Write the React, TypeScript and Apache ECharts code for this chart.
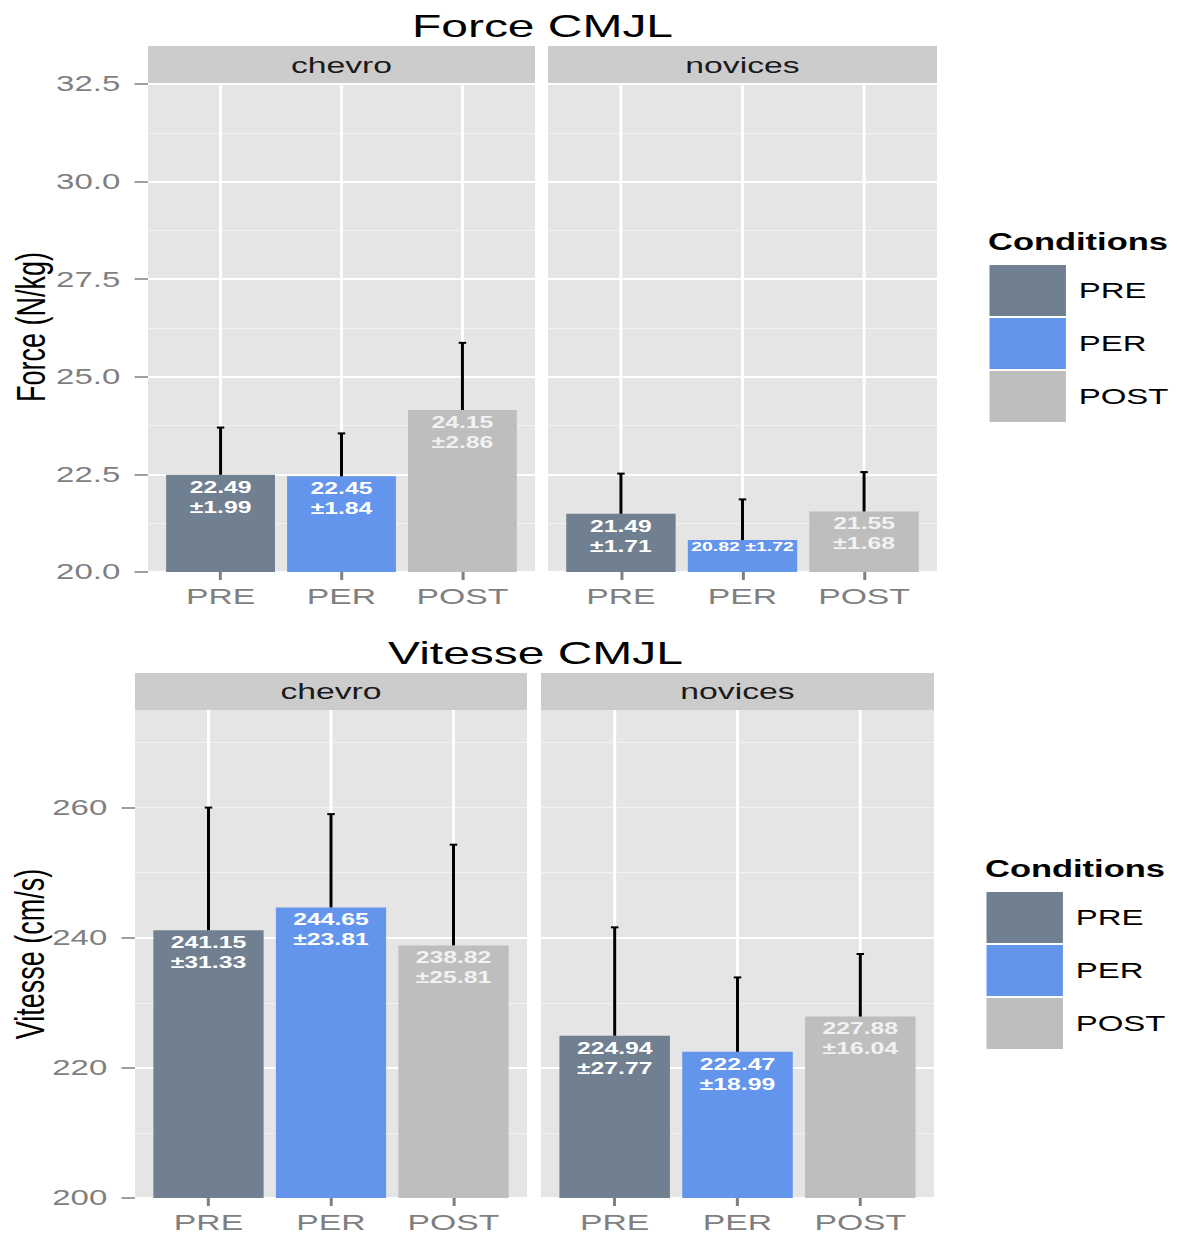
import React, { useEffect, useRef } from "react";
import * as echarts from "echarts";

// ---------- data ----------
const conditions = ["PRE", "PER", "POST"];
const groups = ["chevro", "novices"];
const conditionColors = ["#708090", "#6495ED", "#BEBEBE"];
const labelColors = ["#FFFFFF", "#FFFFFF", "#F2F2F2"];

const forceChevroMean = [22.49, 22.45, 24.15];
const forceChevroSd = [1.99, 1.84, 2.86];
const forceChevroErrTop = [23.7, 23.55, 25.87];
const forceNovicesMean = [21.49, 20.82, 21.55];
const forceNovicesSd = [1.71, 1.72, 1.68];
const forceNovicesErrTop = [22.52, 21.86, 22.56];

const vitesseChevroMean = [241.15, 244.65, 238.82];
const vitesseChevroSd = [31.33, 23.81, 25.81];
const vitesseChevroErrTop = [260.0, 259.0, 254.3];
const vitesseNovicesMean = [224.94, 222.47, 227.88];
const vitesseNovicesSd = [27.77, 18.99, 16.04];
const vitesseNovicesErrTop = [241.6, 233.9, 237.5];

const forceTicks = [20, 22.5, 25, 27.5, 30, 32.5];
const vitesseTicks = [200, 220, 240, 260];

// ---------- layout ----------
const REAL_W = 1178;
const H = 1234;
const CW = 786; // chart width before horizontal stretch
const S = REAL_W / CW;
const X = (real: number) => real / S;
const FONT = '"Liberation Sans", Arial, Helvetica, sans-serif';

const PLOTS = [
  {
    title: "Force CMJL",
    yName: "Force (N/kg)",
    min: 20,
    max: 32.5,
    major: 2.5,
    minor: 1.25,
    ticks: forceTicks,
    digits: 1,
    means: [forceChevroMean, forceNovicesMean],
    sds: [forceChevroSd, forceNovicesSd],
    tops: [forceChevroErrTop, forceNovicesErrTop],
    L: {
      titleX: 542.5, titleY: 26, yTitleX: 31, yTitleY: 327,
      stripTop: 46, top: 84, bottom: 572,
      cols: [[148, 535], [548, 937]],
      legendX: 988, legendTitleY: 242, legendTop: 264,
    },
  },
  {
    title: "Vitesse CMJL",
    yName: "Vitesse (cm/s)",
    min: 200,
    max: 275,
    major: 20,
    minor: 10,
    ticks: vitesseTicks,
    digits: 0,
    means: [vitesseChevroMean, vitesseNovicesMean],
    sds: [vitesseChevroSd, vitesseNovicesSd],
    tops: [vitesseChevroErrTop, vitesseNovicesErrTop],
    L: {
      titleX: 535.5, titleY: 653, yTitleX: 29.5, yTitleY: 954,
      stripTop: 673, top: 710, bottom: 1198,
      cols: [[135, 527], [541, 934]],
      legendX: 985, legendTitleY: 869, legendTop: 891,
    },
  },
];

function buildOption() {
  const grid: any[] = [];
  const xAxis: any[] = [];
  const yAxis: any[] = [];
  const series: any[] = [];
  const graphic: any[] = [];
  const legend: any[] = [];

  PLOTS.forEach((p) => {
    const L = p.L;
    graphic.push({
      type: "text", x: X(L.titleX), y: L.titleY, z: 10,
      style: { text: p.title, fontSize: 32, fontFamily: FONT, fill: "#000", align: "center", verticalAlign: "middle" },
    });
    graphic.push({
      type: "text", x: X(L.yTitleX), y: L.yTitleY, rotation: Math.PI / 2, z: 10,
      style: { text: p.yName, fontSize: 27, fontFamily: FONT, fill: "#000", align: "center", verticalAlign: "middle" },
    });
    graphic.push({
      type: "text", x: X(L.legendX), y: L.legendTitleY, z: 10,
      style: { text: "Conditions", fontSize: 23, fontWeight: "bold", fontFamily: FONT, fill: "#000", align: "left", verticalAlign: "middle" },
    });
    legend.push({
      left: X(L.legendX), top: L.legendTop, orient: "vertical",
      itemWidth: 52, itemHeight: 52, itemGap: 0, icon: "rect", padding: 0,
      selectedMode: false, data: conditions,
      itemStyle: { borderColor: "#FFFFFF", borderWidth: 1 },
      textStyle: { fontSize: 22, color: "#000", fontFamily: FONT, padding: [0, 0, 0, 3] },
    });

    groups.forEach((g, gi) => {
      const [x0, x1] = L.cols[gi];
      const left = X(x0);
      const width = X(x1) - X(x0);
      const top = L.top;
      const height = L.bottom - L.top;
      const band = width / 3.2;

      graphic.push({
        type: "rect", shape: { x: left, y: L.stripTop, width, height: top - L.stripTop },
        style: { fill: "#CCCCCC" }, z: 1,
      });
      graphic.push({
        type: "text", x: left + width / 2, y: (L.stripTop + top) / 2, z: 2,
        style: { text: g, fontSize: 22.5, fontFamily: FONT, fill: "#1A1A1A", align: "center", verticalAlign: "middle" },
      });

      const gA = grid.length;
      grid.push({ left, top, width, height, show: true, backgroundColor: "#E5E5E5", borderWidth: 0, z: 0, containLabel: false, outerBoundsMode: "none" });
      const gB = grid.length;
      grid.push({ left: left + 0.1 * band, top, width: 3 * band, height, show: false, containLabel: false, outerBoundsMode: "none" });

      xAxis.push({ type: "value", gridIndex: gA, min: 0, max: 1, show: false });
      const xB = xAxis.length;
      xAxis.push({
        type: "category", gridIndex: gB, data: conditions, z: 2,
        axisLine: { show: false },
        axisTick: { show: true, alignWithLabel: true, length: 8, lineStyle: { color: "#7F7F7F", width: 2 } },
        axisLabel: { color: "#7F7F7F", fontSize: 22.5, fontFamily: FONT, margin: 13 },
        splitLine: { show: false },
      });

      // minor grid lines
      yAxis.push({
        type: "value", gridIndex: gA, min: p.min, max: p.max, interval: p.minor, position: "right", z: 1,
        axisLine: { show: false }, axisTick: { show: false }, axisLabel: { show: false },
        splitLine: { show: true, showMaxLine: false, lineStyle: { color: "#F2F2F2", width: 1 } },
      });
      // major grid lines + labels
      const showY = gi === 0;
      const isMajorTick = (v: number) => p.ticks.some((t) => Math.abs(t - v) < 1e-6);
      yAxis.push({
        type: "value", gridIndex: gA, min: p.min, max: p.max, interval: p.major, position: "left", z: 2,
        axisLine: { show: false },
        axisTick: { show: showY, length: 9, customValues: p.ticks, lineStyle: { color: "#7F7F7F", width: 1.5 } },
        axisLabel: {
          show: showY, customValues: p.ticks, color: "#7F7F7F", fontSize: 22, fontFamily: FONT, margin: 18.5,
          formatter: (v: number) => (isMajorTick(v) ? v.toFixed(p.digits) : ""),
        },
        splitLine: { show: true, showMaxLine: p.ticks.some((t) => Math.abs(t - p.max) < 1e-6), lineStyle: { color: "#FFFFFF", width: 2 } },
      });
      const yB = yAxis.length;
      yAxis.push({ type: "value", gridIndex: gB, min: p.min, max: p.max, show: false });

      // vertical grid lines at category centres
      series.push({
        type: "custom", xAxisIndex: xB, yAxisIndex: yB, silent: true, z: 3,
        encode: { x: 0, y: 1 },
        data: conditions.map((_, i) => [i, p.min]),
        renderItem: (params: any, api: any) => {
          const cs = params.coordSys;
          const x = api.coord([api.value(0), api.value(1)])[0];
          return {
            type: "line",
            shape: { x1: x, y1: cs.y, x2: x, y2: cs.y + cs.height },
            style: { stroke: "#FFFFFF", lineWidth: 2 },
          };
        },
      });

      const means = p.means[gi];
      const sds = p.sds[gi];
      const tops = p.tops[gi];
      conditions.forEach((c, k) => {
        series.push({
          type: "bar", name: c, xAxisIndex: xB, yAxisIndex: yB, z: 4,
          barGap: "-100%", barCategoryGap: "10%",
          itemStyle: { color: conditionColors[k] },
          data: conditions.map((_, j) => {
            if (j !== k) return "-";
            const m = means[j];
            const sd = sds[j];
            const short = (m - p.min) / (p.max - p.min) < 0.1;
            return {
              value: m,
              label: {
                show: true, position: "insideTop",
                distance: short ? 0 : 2,
                formatter: short ? `${m.toFixed(2)} ±${sd.toFixed(2)}` : `${m.toFixed(2)}\n±${sd.toFixed(2)}`,
                color: labelColors[k], fontSize: short ? 13 : 16.5, lineHeight: short ? 13 : 20,
                fontWeight: "bold", fontFamily: FONT,
              },
            };
          }),
        });
      });

      // error bars (upper part)
      series.push({
        type: "custom", xAxisIndex: xB, yAxisIndex: yB, silent: true, z: 5,
        encode: { x: 0, y: [1, 2] },
        data: means.map((m, i) => [i, m, tops[i]]),
        renderItem: (params: any, api: any) => {
          const p1 = api.coord([api.value(0), api.value(1)]);
          const p2 = api.coord([api.value(0), api.value(2)]);
          return {
            type: "group",
            children: [
              { type: "line", shape: { x1: p1[0], y1: p1[1], x2: p2[0], y2: p2[1] }, style: { stroke: "#000", lineWidth: 2 } },
              { type: "line", shape: { x1: p2[0] - 2.5, y1: p2[1], x2: p2[0] + 2.5, y2: p2[1] }, style: { stroke: "#000", lineWidth: 2 } },
            ],
          };
        },
      });
    });
  });

  return {
    animation: false,
    backgroundColor: "#FFFFFF",
    textStyle: { fontFamily: FONT },
    grid, xAxis, yAxis, series, graphic, legend,
  };
}

export default function App() {
  const ref = useRef<HTMLDivElement>(null);
  useEffect(() => {
    if (!ref.current) return;
    const chart = echarts.init(ref.current, null, { renderer: "svg", width: CW, height: H });
    chart.setOption(buildOption() as any);
    return () => chart.dispose();
  }, []);
  return (
    <div
      ref={ref}
      style={{
        position: "absolute",
        left: 0,
        top: 0,
        width: CW,
        height: H,
        transform: `scaleX(${S})`,
        transformOrigin: "0 0",
        background: "#FFFFFF",
      }}
    />
  );
}
